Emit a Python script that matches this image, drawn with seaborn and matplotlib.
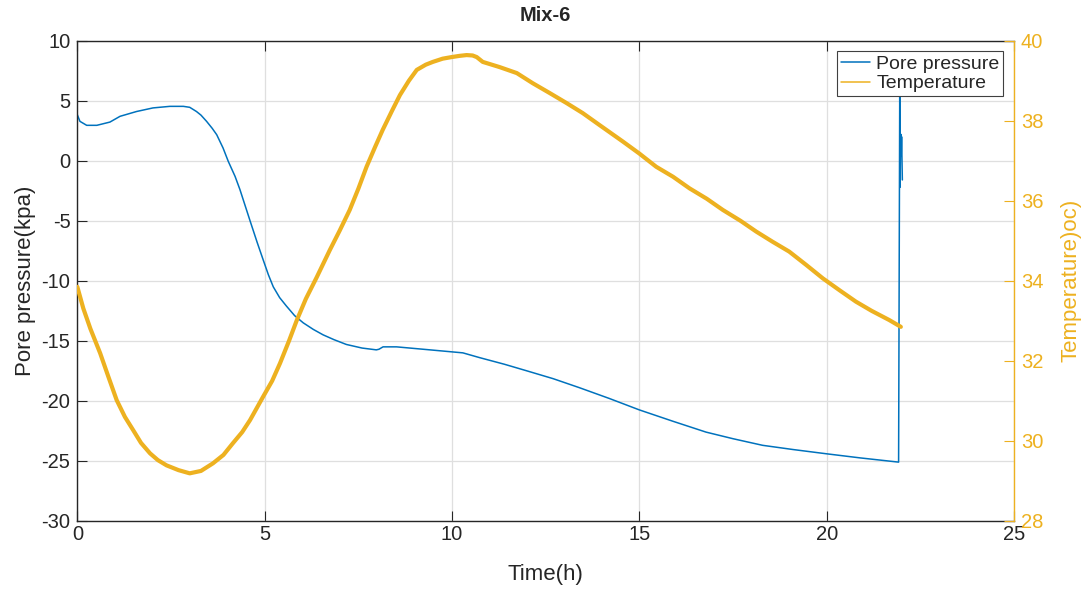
import matplotlib
matplotlib.use("Agg")
import matplotlib.pyplot as plt
import seaborn as sns
import pandas as pd
from matplotlib.lines import Line2D

# Pore pressure record (time in hours, pressure in kPa)
pore_time = [0.00, 0.07, 0.25, 0.52, 0.87, 1.14, 1.58, 2.02, 2.47, 2.83, 3.00,
             3.18, 3.30, 3.45, 3.60, 3.72, 3.89, 4.03, 4.21, 4.34, 4.61, 4.80,
             4.96, 5.10, 5.23, 5.40, 5.58, 5.80, 6.03, 6.30, 6.56, 6.85, 7.18,
             7.60, 7.98, 8.05, 8.16, 8.52, 9.41, 10.29, 10.74, 11.40, 12.00, 12.70,
             13.40, 14.20, 15.00, 15.90, 16.78, 17.50, 18.29, 19.10, 19.98, 20.90,
             21.92, 21.95, 21.96, 21.97, 21.98, 21.99, 22.00, 22.02]
pore_kpa = [3.83, 3.28, 2.95, 2.95, 3.22, 3.70, 4.10, 4.40, 4.53, 4.53, 4.45,
            4.10, 3.80, 3.28, 2.70, 2.17, 1.06, -0.06, -1.30, -2.40, -5.00, -6.80,
            -8.25, -9.50, -10.50, -11.40, -12.10, -12.90, -13.50, -14.05, -14.50, -14.90, -15.30,
            -15.60, -15.75, -15.70, -15.50, -15.50, -15.75, -16.00, -16.40, -16.95, -17.50, -18.15,
            -18.90, -19.80, -20.75, -21.70, -22.60, -23.15, -23.70, -24.05, -24.40, -24.75,
            -25.10, 5.50, -2.20, 1.50, 2.20, 0.40, 2.00, -1.60]

# Temperature record (time in hours, temperature in degrees C)
temp_time = [0.00, 0.16, 0.35, 0.61, 0.83, 1.05, 1.27, 1.49, 1.70, 1.94, 2.15,
             2.38, 2.70, 3.00, 3.30, 3.62, 3.90, 4.15, 4.40, 4.61, 4.95, 5.20,
             5.41, 5.65, 5.86, 6.10, 6.39, 6.74, 7.00, 7.27, 7.50, 7.72, 7.95,
             8.15, 8.40, 8.61, 8.85, 9.06, 9.30, 9.49, 9.75, 9.99, 10.20, 10.39,
             10.55, 10.66, 10.82, 11.27, 11.73, 12.15, 12.61, 13.06, 13.49, 13.94,
             14.56, 15.00, 15.45, 15.90, 16.34, 16.80, 17.23, 17.70, 18.12, 18.55,
             19.00, 19.45, 19.90, 20.35, 20.78, 21.20, 21.67, 21.98]
temp_c = [33.85, 33.31, 32.80, 32.19, 31.60, 31.02, 30.60, 30.27, 29.95, 29.69, 29.52,
          29.39, 29.27, 29.19, 29.25, 29.44, 29.65, 29.94, 30.22, 30.52, 31.09, 31.50,
          31.94, 32.50, 33.02, 33.55, 34.09, 34.77, 35.25, 35.77, 36.30, 36.85, 37.35,
          37.77, 38.25, 38.64, 39.00, 39.27, 39.40, 39.47, 39.55, 39.59, 39.62, 39.64,
          39.63, 39.59, 39.47, 39.34, 39.19, 38.94, 38.69, 38.44, 38.19, 37.89,
          37.48, 37.18, 36.85, 36.60, 36.31, 36.05, 35.77, 35.50, 35.23, 34.98,
          34.73, 34.40, 34.06, 33.76, 33.48, 33.25, 33.02, 32.85]

x_ticks = [0, 5, 10, 15, 20, 25]
left_ticks = [-30, -25, -20, -15, -10, -5, 0, 5, 10]
right_ticks = [28, 30, 32, 34, 36, 38, 40]

BLUE = "#0072BD"
ORANGE = "#EDB120"
DARK = "#262626"
GRID = "#DFDFDF"

sns.set_theme(style="white")
plt.rcParams["font.family"] = ["Liberation Sans", "DejaVu Sans"]
plt.rcParams["font.size"] = 14

pore_df = pd.DataFrame({"time": pore_time, "pressure": pore_kpa})
temp_df = pd.DataFrame({"time": temp_time, "temperature": temp_c})

fig = plt.figure(figsize=(10.86, 5.92), dpi=100)
ax = fig.add_axes([0.0712, 0.12, 0.8625, 0.8113])
ax2 = ax.twinx()

sns.lineplot(data=pore_df, x="time", y="pressure", ax=ax, color=BLUE,
             linewidth=1.1, sort=False, estimator=None)
sns.lineplot(data=temp_df, x="time", y="temperature", ax=ax2, color=ORANGE,
             linewidth=3.0, sort=False, estimator=None)

ax.set_xlim(0, 25)
ax.set_ylim(-30, 10)
ax2.set_ylim(28, 40)
ax.set_xticks(x_ticks)
ax.set_yticks(left_ticks)
ax2.set_yticks(right_ticks)
ax.set_xticklabels([str(t) for t in x_ticks])
ax.set_yticklabels([str(t) for t in left_ticks])
ax2.set_yticklabels([str(t) for t in right_ticks])

ax.grid(True, color=GRID, linewidth=0.9)
ax2.grid(False)
ax.set_axisbelow(True)

for side in ["left", "bottom", "top"]:
    ax.spines[side].set_color(DARK)
    ax.spines[side].set_linewidth(1.0)
ax.spines["right"].set_visible(False)
for side in ["left", "bottom", "top"]:
    ax2.spines[side].set_visible(False)
ax2.spines["right"].set_color(ORANGE)
ax2.spines["right"].set_linewidth(1.0)

ax.tick_params(axis="x", direction="in", length=7, width=0.8, colors=DARK,
               top=True, bottom=True, labelsize=14.5, pad=3)
ax.tick_params(axis="y", direction="in", length=7, width=0.8, colors=DARK,
               left=True, right=False, labelsize=14.5, pad=5)
ax2.tick_params(axis="y", direction="in", length=7, width=0.8, colors=ORANGE,
                left=False, right=True, labelsize=14.5, pad=5)

ax.set_xlabel("Time(h)", fontsize=16, color=DARK, labelpad=14)
ax.set_ylabel("Pore pressure(kpa)", fontsize=16, color=DARK, labelpad=4)
ax2.set_ylabel("Temperature)oc)", fontsize=16, color=ORANGE, labelpad=12)
ax.set_title("Mix-6", fontsize=14.5, fontweight="bold", color=DARK, pad=14)

handles = [Line2D([0], [0], color=BLUE, linewidth=1.1),
           Line2D([0], [0], color=ORANGE, linewidth=1.1)]
leg = ax2.legend(handles, ["Pore pressure", "Temperature"], loc="upper right",
                 fontsize=14, frameon=True, fancybox=False, framealpha=1,
                 edgecolor="#404040", borderaxespad=0.55, borderpad=0.2,
                 labelspacing=0.1, handlelength=1.5, handletextpad=0.3)
leg.get_frame().set_linewidth(0.8)

fig.savefig("out.png", dpi=100)
